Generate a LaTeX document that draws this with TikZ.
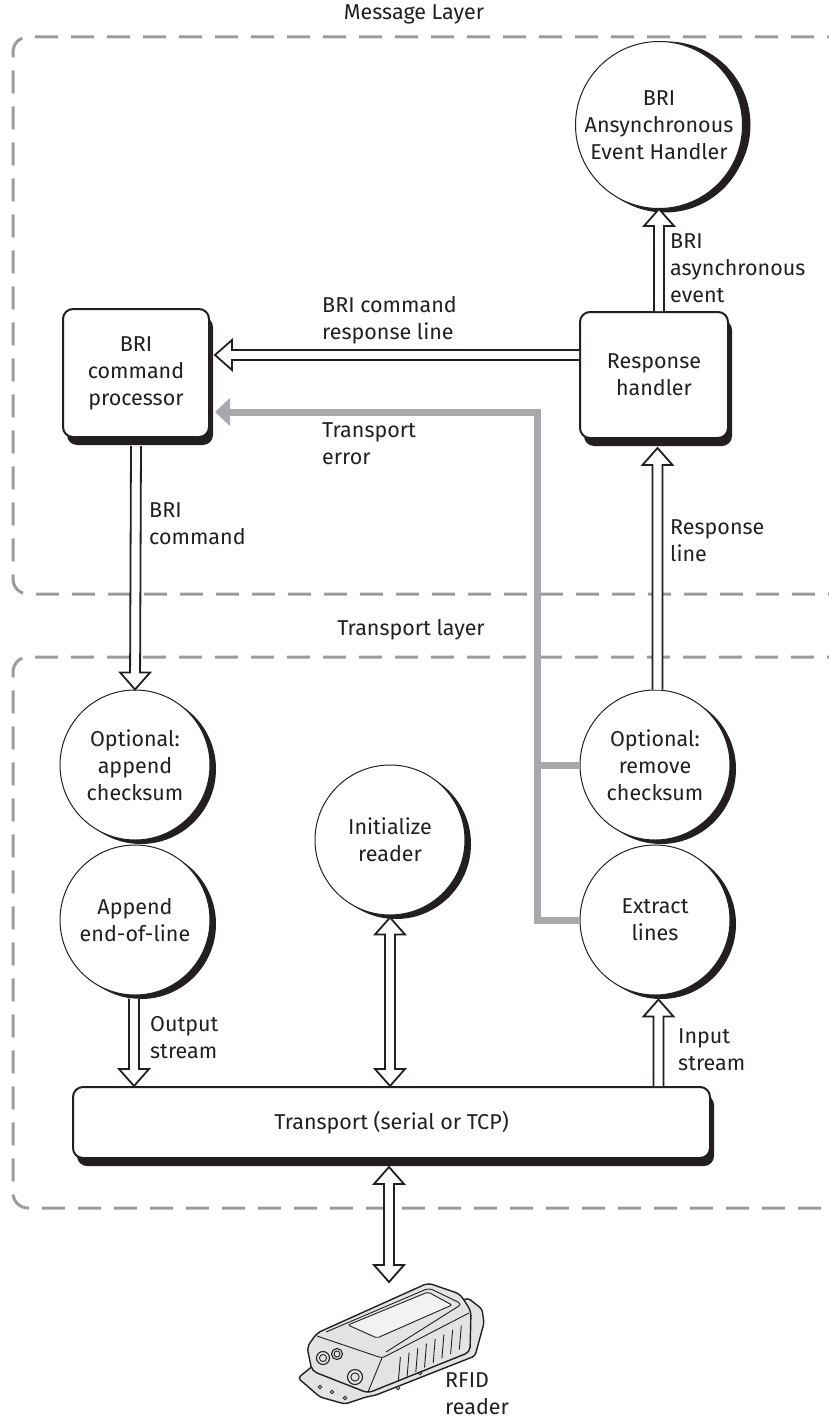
\documentclass[tikz,border=0pt]{standalone}
\usepackage{fontspec}
\setmainfont{Fira Sans}
\usetikzlibrary{calc,shadows,arrows.meta}
\definecolor{dashgray}{HTML}{9B9B9B}
\definecolor{errgray}{HTML}{A7A9AC}
\definecolor{ink}{HTML}{231F20}
\definecolor{bodygray}{HTML}{E3E3E3}
\definecolor{panelgray}{HTML}{F2F2F2}
\pgfdeclarelayer{bg}
\pgfsetlayers{bg,main}
\newcommand\hollowarrow[2]{%
  \coordinate (ha) at (#1); \coordinate (hb) at (#2);
  \coordinate (hh) at ($(hb)!17pt!(ha)$);
  \draw[arrowbody] ($(ha)!5pt!90:(hb)$) -- ($(hh)!5pt!90:(hb)$) -- ($(hh)!15pt!90:(hb)$) -- (hb) -- ($(hh)!15pt!-90:(hb)$) -- ($(hh)!5pt!-90:(hb)$) -- ($(ha)!5pt!-90:(hb)$);}
\newcommand\twinarrow[2]{%
  \coordinate (ha) at (#1); \coordinate (hb) at (#2);
  \coordinate (h1) at ($(ha)!17pt!(hb)$); \coordinate (h2) at ($(hb)!17pt!(ha)$);
  \draw[arrowbody] (ha) -- ($(h1)!15pt!90:(hb)$) -- ($(h1)!5pt!90:(hb)$) -- ($(h2)!5pt!90:(hb)$) -- ($(h2)!15pt!90:(hb)$) -- (hb) -- ($(h2)!15pt!-90:(hb)$) -- ($(h2)!5pt!-90:(hb)$) -- ($(h1)!5pt!-90:(hb)$) -- ($(h1)!15pt!-90:(hb)$) -- cycle;}
\begin{document}
\begin{tikzpicture}[x=1pt,y=-1pt,
  font=\fontsize{21.5}{27}\selectfont,
  every node/.style={text=ink},
  procbox/.style={draw=ink, line width=2pt, fill=white, rounded corners=10pt,
    minimum width=146pt, minimum height=128pt, align=center,
    drop shadow={shadow xshift=4pt, shadow yshift=-8pt, fill=ink, opacity=1}},
  proccirc/.style={circle, draw=ink, line width=1pt, fill=white, minimum size=150pt,
    inner sep=0pt, align=center,
    drop shadow={shadow xshift=6pt, shadow yshift=-4pt, fill=ink, opacity=1}},
  layerbox/.style={draw=dashgray, line width=3pt, dash pattern=on 23pt off 13pt, rounded corners=15pt},
  arrowbody/.style={draw=ink, line width=1.8pt, fill=white, line join=miter},
  errline/.style={draw=errgray, line width=7pt, line join=miter},
  lbl/.style={align=left, anchor=west, inner sep=0pt},
  devline/.style={draw=ink, line width=1.4pt, line join=round},
  devthin/.style={draw=ink, line width=0.9pt}]

\useasboundingbox (0,0) rectangle (828,1420);

% layer titles
\node (msgt) at (414,14) {Message Layer};
\node (trat) at (411,630) {Transport layer};

% processes
\node[proccirc, minimum size=167pt, drop shadow={shadow xshift=8pt, shadow yshift=0pt, fill=ink, opacity=1}] (async) at (659,125) {BRI\\Ansynchronous\\Event Handler};
\node[procbox] (cmd) at (136,373) {BRI\\command\\processor};
\node[procbox, minimum width=148pt, minimum height=126pt] (resp) at (654,375) {Response\\handler};
\node[proccirc] (ack) at (135,765) {Optional:\\append\\checksum};
\node[proccirc] (eol) at (135,920) {Append\\end-of-line};
\node[proccirc] (init) at (390,840) {Initialize\\reader};
\node[proccirc] (rck) at (655,765) {Optional:\\remove\\checksum};
\node[proccirc] (ext) at (655,920) {Extract\\lines};
\node[procbox, minimum width=637pt, minimum height=71pt] (trans) at (391.5,1122.5) {Transport (serial or TCP)};

% layer boxes
\begin{pgfonlayer}{bg}
\draw[layerbox] (850,37) -- (13,37) -- (13,594) -- (850,594);
\draw[layerbox] (850,657) -- (13,657) -- (13,1208) -- (850,1208);
\end{pgfonlayer}

% transport error (grey)
\coordinate (ebus) at (537,412);
\draw[errline] (rck.west) -- (rck.west -| ebus);
\draw[errline, -{Triangle[length=15pt,width=27pt]}] (ext.west) -| (ebus) -- ($(cmd.east)+(5,39)$);

% arrows
\hollowarrow{$(resp.west)+(0,-20)$}{$(cmd.east)+(5,-18)$}
\hollowarrow{$(cmd.south)+(0,8)$}{ack.north}
\hollowarrow{$(rck.north)+(2.5,0)$}{$(rck.north |- resp.south)+(2.5,9)$}
\hollowarrow{async.south |- resp.north}{async.south}
\hollowarrow{$(eol.south)+(-1,3)$}{$(eol.south |- trans.north)+(-1,0)$}
\twinarrow{$(init.south)+(0,2)$}{init.south |- trans.north}
\hollowarrow{$(ext.south |- trans.north)+(3.5,0)$}{$(ext.south)+(3.5,4)$}
\coordinate (dev) at (389,1282);
\twinarrow{$(trans.south)+(-2.5,8)$}{dev}

% labels
\node[lbl] (lresp) at (322,320) {BRI command\\response line};
\node[lbl] (lerr) at (322,444) {Transport\\error};
\node[lbl] (lcmd) at (149,524) {BRI\\command};
\node[lbl] (lrl) at (670,541) {Response\\line};
\node[lbl] (lev) at (670,268) {BRI\\asynchronous\\event};
\node[lbl] (lout) at (150,1038) {Output\\stream};
\node[lbl] (lin) at (678,1050) {Input\\stream};
\node[lbl] (lrfid) at (445,1394) {RFID\\reader};

% RFID reader device
\draw[devline, fill=bodygray, rounded corners=3pt] (298,1378) -- (320,1397) -- (345,1404) -- (366,1397) -- (376,1395) -- (475,1356) -- (484,1323) -- (482,1309) -- (468,1298) -- (440,1310) -- (320,1360) -- cycle;
\foreach \p in {(320,1387),(332,1392),(345,1398),(398,1388),(420,1373),(442,1358),(459,1345)} \draw[devthin, fill=white] \p circle (1.8);
\draw[devline, fill=bodygray, rounded corners=5pt] (307,1347) -- (317,1333) -- (428,1283) -- (460,1294) -- (471,1311) -- (470,1352) -- (368,1393) -- (312,1371) -- cycle;
\draw[devthin, rounded corners=3pt] (317,1336) -- (382,1358) -- (469,1313);
\draw[devthin] (382,1358) -- (368,1392);
\draw[devthin, rounded corners=4pt] (326,1332) -- (429,1288) -- (462,1304) -- (386,1352);
\draw[devthin, fill=panelgray, rounded corners=2pt] (348,1325) -- (428,1292) -- (452,1305) -- (377,1338) -- cycle;
\foreach \t in {0.2,0.3,0.4,0.5,0.6,0.7,0.8,0.9} \draw[devthin] ($(382,1358)!\t!(469,1313)+(1,8)$) -- ($(382,1358)!\t!(469,1313)+(-1,32)$);
\foreach \p/\r in {(323,1358)/6.5,(337,1354)/5.5,(355,1377)/7.5} {\draw[devthin, line width=1.1pt, fill=bodygray] \p circle (\r); \draw[devthin] \p circle (\r*0.55);}
\end{tikzpicture}
\end{document}
